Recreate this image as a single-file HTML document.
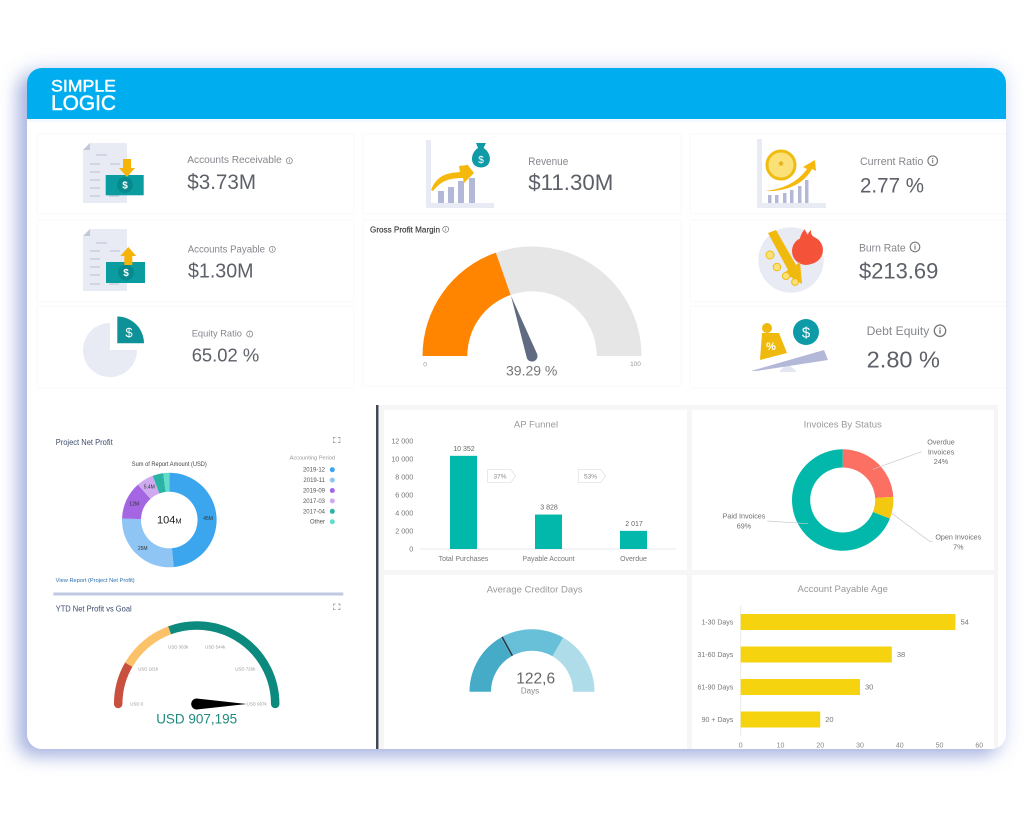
<!DOCTYPE html>
<html lang="en">
<head>
<meta charset="utf-8">
<title>Simple Logic Dashboard</title>
<style>
html,body{margin:0;padding:0;width:1024px;height:816px;background:#fff;overflow:hidden;font-family:"Liberation Sans",sans-serif}
#shadow{position:absolute;left:27px;top:68px;width:979px;height:681px;border-radius:15px;background:#fff;box-shadow:-9px 7px 17px rgba(120,138,205,.6),0 0 20px 3px rgba(175,190,240,.28)}
#board{position:absolute;left:0;top:0;filter:blur(.35px)}
text{font-family:"Liberation Sans",sans-serif}
</style>
</head>
<body>
<div id="shadow"></div>
<svg id="board" width="1024" height="816" viewBox="0 0 1024 816" xmlns="http://www.w3.org/2000/svg">
<defs>
<clipPath id="panelClip"><rect x="27" y="68" width="979" height="681" rx="15"/></clipPath>
<g id="infoGlyph"><circle r="3" fill="none" stroke="#777" stroke-width=".7"/><rect x="-.35" y="-.6" width=".7" height="2.2" fill="#777"/><rect x="-.35" y="-1.7" width=".7" height=".7" fill="#777"/></g>
</defs>
<g clip-path="url(#panelClip)" id="panel">
<rect x="27" y="68" width="979" height="681" fill="#fff"/>
<rect x="27" y="68" width="979" height="51" fill="#00aeef"/>
<rect x="27" y="119" width="979" height="3" fill="#f4fbfe"/>
<g fill="#fff" stroke="#fff" stroke-width=".45">
<text x="51" y="91.700" font-size="17" textLength="65" lengthAdjust="spacingAndGlyphs">SIMPLE</text>
<text x="51" y="110" font-size="21" textLength="65" lengthAdjust="spacingAndGlyphs">LOGIC</text>
</g>

<g fill="#fff" stroke="#f8f8f8" stroke-width="1">
<rect x="37" y="134" width="317" height="80" rx="2"/>
<rect x="37" y="220" width="317" height="82" rx="2"/>
<rect x="37" y="306" width="317" height="82" rx="2"/>
<rect x="363" y="134" width="318" height="80" rx="2"/>
<rect x="363" y="220" width="318" height="166" rx="2"/>
<rect x="690" y="134" width="330" height="80" rx="2"/>
<rect x="690" y="220" width="330" height="82" rx="2"/>
<rect x="690" y="306" width="330" height="82" rx="2"/>
</g>

<!-- icon: receivable -->
<g>
<path d="M90 143H127V203H83V150Z" fill="#e8eaf4"/><path d="M90 143V150H83Z" fill="#c4c8dc"/>
<g stroke="#bcc0d2" stroke-width="1"><path d="M96 155h11M90 164h10M110 164h10M90 172h10M90 180h10M90 188h10M90 196h10M109 196h10"/></g>
<rect x="105.7" y="175" width="38" height="20.3" fill="#0a9c9f"/><circle cx="125" cy="185" r="8" fill="#078a8e"/>
<text x="125" y="188.5" font-size="10" font-weight="bold" fill="#fff" text-anchor="middle">$</text>
<path d="M123 159h8v9h4l-8 9-8-9h4Z" fill="#f6b30a"/>
</g>
<!-- icon: payable -->
<g>
<path d="M90 229H127V291H83V236Z" fill="#e8eaf4"/><path d="M90 229V236H83Z" fill="#c4c8dc"/>
<g stroke="#bcc0d2" stroke-width="1"><path d="M96 243h11M90 251h10M110 251h10M90 259h10M90 267h10M90 275h10M90 284h10M109 284h10"/></g>
<rect x="106" y="262" width="39" height="21" fill="#0a9c9f"/><circle cx="126" cy="272.5" r="8" fill="#078a8e"/>
<text x="126" y="276" font-size="10" font-weight="bold" fill="#fff" text-anchor="middle">$</text>
<path d="M128.3 247l8 9h-4v9h-8v-9h-4Z" fill="#f6b30a"/>
</g>
<!-- icon: equity -->
<g>
<path d="M110 323V350H137A27 27 0 1 1 110 323Z" fill="#e8eaf4"/>
<path d="M117.3 316.5A26.8 26.8 0 0 1 144 343.3H117.3Z" fill="#0f9297"/>
<text x="129" y="337" font-size="13" fill="#fff" text-anchor="middle">$</text>
</g>
<!-- icon: revenue -->
<g>
<path d="M426 140h5v63h63v5h-68Z" fill="#e8eaf4"/>
<g fill="#b3b8d8"><rect x="438" y="191" width="6" height="12"/><rect x="448" y="187" width="6" height="16"/><rect x="458" y="181" width="6" height="22"/><rect x="469" y="178" width="6" height="25"/></g>
<path d="M431 190C437 175 447 173 460 172L459 166 467 165 467 164 474 173 464 183 463 178C449 178 441 181 433 191Z" fill="#f5b90e"/>
<path d="M476 143h10l-2.500 5C492 153 493 167 481 167.500 469 167 470 153 478 148Z" fill="#0e9aa7"/>
<text x="481" y="163" font-size="10" fill="#fff" text-anchor="middle">$</text>
</g>
<!-- icon: current ratio -->
<g>
<path d="M757 139h5v64h64v5h-69Z" fill="#e8eaf4"/>
<g fill="#b3b8d8"><rect x="768" y="195" width="3.500" height="8"/><rect x="775" y="195" width="3.500" height="8"/><rect x="783" y="193" width="3.500" height="10"/><rect x="790" y="190" width="3.500" height="13"/><rect x="798" y="186" width="3.500" height="17"/><rect x="805" y="180" width="3.500" height="23"/></g>
<circle cx="781" cy="165" r="14" fill="#fbe178" stroke="#efbc10" stroke-width="3"/>
<text x="781" y="170" font-size="13" font-weight="bold" fill="#e2a90c" text-anchor="middle">*</text>
<path d="M765 191C786 189 799 180 807 169L803 167 815 160 816 171 812 169C804 184 786 192 765 191Z" fill="#f5b90e"/>
</g>
<!-- icon: burn rate -->
<g>
<circle cx="791" cy="260" r="32.700" fill="#e8eaf4"/>
<path d="M800 251a13 13 0 0 0 10 13a14 14 0 0 0 4-27c-3-2-3-4-3-7-2 2-3 3-3 5-2-3-3-4-3-6-3 3-4 6-5 9Z" fill="#f4533a"/>
<circle cx="806" cy="251" r="14" fill="#f4533a"/>
<path d="M768 233l8-3 20 35 4-3 2 22-18-11 4-3Z" fill="#f0b90e"/>
<g fill="#fbe178" stroke="#efbc10"><circle cx="770" cy="255" r="4"/><circle cx="777" cy="267" r="3.800"/><circle cx="786" cy="276" r="3.600"/><circle cx="795" cy="282" r="3.400"/></g>
</g>
<!-- icon: debt equity -->
<g>
<path d="M787 363l10 9h-18Z" fill="#e4e6f2"/>
<path d="M751 371L824 350 828 360 756 371Z" fill="#b3b8d8"/>
<circle cx="767" cy="328" r="5" fill="#f0b90e"/><path d="M762 333H779L787 353 760 360Z" fill="#f0b90e"/>
<text x="771" y="350" font-size="11" font-weight="bold" fill="#fff" text-anchor="middle">%</text>
<circle cx="806" cy="332" r="13" fill="#0e9aa7"/>
<text x="806" y="337.500" font-size="15" fill="#fff" text-anchor="middle">$</text>
</g>

<!-- KPI text -->
<g fill="#85878d">
<text x="187.300" y="163" font-size="10.500" textLength="94.500" lengthAdjust="spacingAndGlyphs">Accounts Receivable</text>
<text x="187.700" y="252.300" font-size="10" textLength="77.300" lengthAdjust="spacingAndGlyphs">Accounts Payable</text>
<text x="191.700" y="336.700" font-size="9.500" textLength="50.300" lengthAdjust="spacingAndGlyphs">Equity Ratio</text>
<text x="528.300" y="165" font-size="11" textLength="40" lengthAdjust="spacingAndGlyphs">Revenue</text>
<text x="860" y="165" font-size="11" textLength="63.300" lengthAdjust="spacingAndGlyphs">Current Ratio</text>
<text x="859" y="251.700" font-size="11" textLength="46.700" lengthAdjust="spacingAndGlyphs">Burn Rate</text>
<text x="866.700" y="335" font-size="12" textLength="62.600" lengthAdjust="spacingAndGlyphs">Debt Equity</text>
</g>
<g fill="#5d6068">
<text x="187.300" y="189" font-size="21" textLength="68.700" lengthAdjust="spacingAndGlyphs">$3.73M</text>
<text x="188" y="277.300" font-size="20" textLength="65.500" lengthAdjust="spacingAndGlyphs">$1.30M</text>
<text x="191.700" y="361.700" font-size="18.500" textLength="67.500" lengthAdjust="spacingAndGlyphs">65.02 %</text>
<text x="528.300" y="190" font-size="22" textLength="85" lengthAdjust="spacingAndGlyphs">$11.30M</text>
<text x="860" y="192.700" font-size="21" textLength="64" lengthAdjust="spacingAndGlyphs">2.77 %</text>
<text x="859" y="278.300" font-size="22" textLength="79.300" lengthAdjust="spacingAndGlyphs">$213.69</text>
<text x="866.700" y="367.300" font-size="23" textLength="73.300" lengthAdjust="spacingAndGlyphs">2.80 %</text>
</g>
<use href="#infoGlyph" x="289.300" y="160.700"/>
<use href="#infoGlyph" x="272.300" y="249.300"/>
<use href="#infoGlyph" x="249.700" y="334"/>
<use href="#infoGlyph" x="445.700" y="229.300"/>
<use href="#infoGlyph" transform="translate(932.700 160.700) scale(1.600)"/>
<use href="#infoGlyph" transform="translate(915 247) scale(1.600)"/>
<use href="#infoGlyph" transform="translate(940 330.700) scale(1.900)"/>

<text x="370" y="232.300" font-size="8.200" fill="#3a3a3a" stroke="#3a3a3a" stroke-width=".15" textLength="70" lengthAdjust="spacingAndGlyphs">Gross Profit Margin</text>
<g id="grossGauge"></g>
<text x="425" y="366.500" font-size="6.500" fill="#999" text-anchor="middle">0</text>
<text x="635.500" y="366" font-size="6.500" fill="#999" text-anchor="middle">100</text>
<text x="531.700" y="375.500" font-size="14" fill="#777" text-anchor="middle">39.29 %</text>

<!-- lower left -->
<text x="55.700" y="445" font-size="8.300" fill="#3b4a6b" textLength="57" lengthAdjust="spacingAndGlyphs">Project Net Profit</text>
<g stroke="#8b9099" stroke-width=".7" fill="none"><path d="M333.500 439.500v-2h2M338 437.500h2v2M333.500 440.500v2h2M338 442.500h2v-2"/></g>
<text x="169.300" y="466" font-size="6" fill="#444" text-anchor="middle" textLength="75" lengthAdjust="spacingAndGlyphs">Sum of Report Amount (USD)</text>
<text x="335" y="459.300" font-size="5.600" fill="#999" text-anchor="end">Accounting Period</text>
<g id="profitDonut"></g>
<g id="profitLegend"></g>
<text x="169.300" y="523.700" font-size="11" fill="#222" text-anchor="middle">104<tspan font-size="7.500">M</tspan></text>
<text x="55.700" y="582" font-size="5.600" fill="#2a6fb0" textLength="79" lengthAdjust="spacingAndGlyphs">View Report (Project Net Profit)</text>
<rect x="53.300" y="592.500" width="290" height="3" fill="#c0cae0"/>
<text x="55.700" y="611.300" font-size="8.300" fill="#3b4a6b" textLength="76" lengthAdjust="spacingAndGlyphs">YTD Net Profit vs Goal</text>
<g stroke="#8b9099" stroke-width=".7" fill="none"><path d="M333.500 606v-2h2M338 604h2v2M333.500 607.500v2h2M338 609.500h2v-2"/></g>
<g id="ytdGauge"></g>
<text x="196.700" y="723.300" font-size="14" fill="#1f8a7d" text-anchor="middle" textLength="81" lengthAdjust="spacingAndGlyphs">USD 907,195</text>

<!-- lower right -->
<rect x="379" y="405" width="627" height="344" fill="#f6f6f7"/>
<rect x="998" y="405" width="8" height="344" fill="#fff"/>
<rect x="376" y="405" width="2.500" height="344" fill="#3f4a55"/>
<rect x="384" y="410" width="303" height="160" fill="#fff"/>
<rect x="692" y="410" width="302" height="160" fill="#fff"/>
<rect x="384" y="575" width="303" height="174" fill="#fff"/>
<rect x="692" y="575" width="302" height="174" fill="#fff"/>

<text x="536" y="427.700" font-size="9.500" fill="#999" text-anchor="middle">AP Funnel</text>
<g id="funnelChart"></g>
<g><path d="M487.700 469.300H510.500L515.700 476 510.500 482.700H487.700Z" fill="#fff" stroke="#ddd" stroke-width=".7"/><text x="500" y="478.500" font-size="6.500" fill="#888" text-anchor="middle">37%</text></g>
<g><path d="M578.300 469.300H600.500L605.700 476 600.500 482.700H578.300Z" fill="#fff" stroke="#ddd" stroke-width=".7"/><text x="590.500" y="478.500" font-size="6.500" fill="#888" text-anchor="middle">53%</text></g>

<text x="842.700" y="427.300" font-size="9.500" fill="#999" text-anchor="middle">Invoices By Status</text>
<g id="invoiceDonut"></g>
<g stroke="#c9c9c9" stroke-width=".7" fill="none">
<path d="M921.700 451.700L872.700 469.300"/>
<path d="M933 541.700H930L891.700 513.300"/>
<path d="M767.300 521L808.300 523.700"/>
</g>
<g font-size="7.200" fill="#6f6f6f" text-anchor="middle">
<text x="941" y="444.300">Overdue</text>
<text x="941" y="454.300">Invoices</text>
<text x="941" y="464">24%</text>
<text x="958.300" y="539.700">Open Invoices</text>
<text x="958.300" y="549.300">7%</text>
<text x="744" y="518.700">Paid Invoices</text>
<text x="744" y="528.300">69%</text>
</g>

<text x="534.700" y="592.700" font-size="9.500" fill="#999" text-anchor="middle">Average Creditor Days</text>
<g id="creditorGauge"></g>
<text x="535.700" y="683.300" font-size="15.500" fill="#666" text-anchor="middle">122,6</text>
<text x="530" y="693.300" font-size="8" fill="#888" text-anchor="middle">Days</text>

<text x="842.700" y="592" font-size="9.500" fill="#999" text-anchor="middle">Account Payable Age</text>
<g id="ageChart"></g>
</g>
</svg>
<script>
// Gross profit gauge
const grossValue = 39.29;
const grossMax = 100;
// Project net profit donut
const profitPeriods = ['2019-12', '2019-11', '2019-09', '2017-03', '2017-04', 'Other'];
const profitValues = [45, 25, 12, 5.4, 3.4, 1.9];
const profitLabels = ['45M', '25M', '12M', '5.4M', '', ''];
// YTD gauge
const ytdValue = 907195;
const ytdMax = 907195;
const ytdBandEnds = [151000, 352000, 907195];
const ytdTicks = [0, 181000, 363000, 544000, 726000, 907000];
const ytdTickLabels = ['USD 0', 'USD 181k', 'USD 363k', 'USD 544k', 'USD 726k', 'USD 907k'];
// AP funnel
const funnelCategories = ['Total Purchases', 'Payable Account', 'Overdue'];
const funnelValues = [10352, 3828, 2017];
const funnelValueLabels = ['10 352', '3 828', '2 017'];
const funnelTicks = [0, 2000, 4000, 6000, 8000, 10000, 12000];
const funnelTickLabels = ['0', '2 000', '4 000', '6 000', '8 000', '10 000', '12 000'];
// Invoices by status
const invoiceStatuses = ['Overdue Invoices', 'Open Invoices', 'Paid Invoices'];
const invoiceShares = [24, 7, 69];
// Average creditor days
const creditorValue = 122.6;
const creditorMax = 360;
const creditorBandEnds = [120, 240, 360];
// Account payable age
const ageCategories = ['1-30 Days', '31-60 Days', '61-90 Days', '90 + Days'];
const ageValues = [54, 38, 30, 20];
const ageTicks = [0, 10, 20, 30, 40, 50, 60];

const NS = 'http://www.w3.org/2000/svg';
const profitColors = ['#3ba6ee', '#8ec5f4', '#a566e4', '#cfaaf0', '#2bb3a6', '#62dccb'];
const invoiceColors = ['#fc6f63', '#f2c811', '#01b8aa'];
const creditorColors = ['#46abc6', '#67bfd8', '#aedce9'];
const ytdColors = ['#c9503f', '#fbc26a', '#0b8a7d'];

function mk(parent, tag, attrs, text) {
  const el = document.createElementNS(NS, tag);
  for (const k in attrs) el.setAttribute(k, attrs[k]);
  if (text !== undefined) el.textContent = text;
  parent.appendChild(el);
  return el;
}
function polar(cx, cy, r, deg) {
  const a = (deg - 90) * Math.PI / 180;
  return [cx + r * Math.cos(a), cy + r * Math.sin(a)];
}
function sector(cx, cy, ri, ro, a0, a1) {
  const p0 = polar(cx, cy, ro, a0), p1 = polar(cx, cy, ro, a1), p2 = polar(cx, cy, ri, a1), p3 = polar(cx, cy, ri, a0);
  const large = (a1 - a0) > 180 ? 1 : 0;
  return 'M' + p0 + 'A' + ro + ' ' + ro + ' 0 ' + large + ' 1 ' + p1 + 'L' + p2 + 'A' + ri + ' ' + ri + ' 0 ' + large + ' 0 ' + p3 + 'Z';
}
function arcPath(cx, cy, r, a0, a1) {
  const p0 = polar(cx, cy, r, a0), p1 = polar(cx, cy, r, a1);
  return 'M' + p0 + 'A' + r + ' ' + r + ' 0 ' + ((a1 - a0) > 180 ? 1 : 0) + ' 1 ' + p1;
}
function gaugeDeg(v, max) { return -90 + 180 * v / max; }
function needle(parent, cx, cy, len, baseR, deg, fill) {
  const tip = polar(cx, cy, len, deg), l = polar(cx, cy, baseR, deg - 90), r = polar(cx, cy, baseR, deg + 90);
  const el = mk(parent, 'path', { d: 'M' + l + 'L' + tip + 'L' + r + 'A' + baseR + ' ' + baseR + ' 0 1 1 ' + l + 'Z', fill: fill });
  return el;
}
function sum(a) { return a.reduce(function (x, y) { return x + y; }, 0); }

/* Gross profit gauge */
(function () {
  const g = document.getElementById('grossGauge');
  const cx = 532, cy = 356, ri = 64.7, ro = 109.5;
  const split = gaugeDeg(grossValue, grossMax);
  const track = mk(g, 'path', { d: sector(cx, cy, ri, ro, split, 90), fill: '#e6e6e6' });
  
  
  const fill = mk(g, 'path', { d: sector(cx, cy, ri, ro, -90, split), fill: '#ff8500' });
  
  
  const pin = needle(g, cx, cy, 63.7, 5.5, split, '#5f6b80');
  
  
})();

/* Project net profit donut */
(function () {
  const g = document.getElementById('profitDonut');
  const cx = 169.3, cy = 520, ri = 28.3, ro = 47.3, total = sum(profitValues);
  let a = 0;
  profitValues.forEach(function (v, i) {
    const a1 = a + 360 * v / total;
    const s = mk(g, 'path', { d: sector(cx, cy, ri, ro, a, a1), fill: profitColors[i] });
    
    
    if (profitLabels[i]) {
      const p = polar(cx, cy, (ri + ro) / 2 + 1, (a + a1) / 2);
      const t = mk(g, 'text', { x: p[0], y: p[1] + 1.8, 'font-size': 5, fill: '#333', 'text-anchor': 'middle' }, profitLabels[i]);
      
      
    }
    a = a1;
  });
  const lg = document.getElementById('profitLegend');
  profitPeriods.forEach(function (p, i) {
    const y = 469.7 + i * 10.4;
    const t = mk(lg, 'text', { x: 325, y: y + 2, 'font-size': 6, fill: '#555', 'text-anchor': 'end' }, p);
    
    
    const d = mk(lg, 'circle', { cx: 332.3, cy: y, r: 2.5, fill: profitColors[i] });
    
    
  });
})();

/* YTD gauge */
(function () {
  const g = document.getElementById('ytdGauge');
  const cx = 196.7, cy = 704, r = 78.5;
  [0, 2, 1].forEach(function (i) {
    const from = i === 0 ? 0 : ytdBandEnds[i - 1];
    const s = mk(g, 'path', {
      d: arcPath(cx, cy, r, gaugeDeg(from, ytdMax), gaugeDeg(ytdBandEnds[i], ytdMax)),
      fill: 'none', stroke: ytdColors[i], 'stroke-width': 8.5, 'stroke-linecap': i === 1 ? 'butt' : 'round'
    });
    
    
  });
  ytdTicks.forEach(function (v, i) {
    const p = polar(cx, cy, 60, gaugeDeg(v, ytdMax));
    const t = mk(g, 'text', { x: p[0], y: p[1] + 1.6, 'font-size': 4.4, fill: '#999', 'text-anchor': 'middle' }, ytdTickLabels[i]);
    
    
  });
  const pin = needle(g, cx, cy, 50, 5.5, gaugeDeg(ytdValue, ytdMax), '#000');
  
  
})();

/* AP funnel */
(function () {
  const g = document.getElementById('funnelChart');
  const y = function (v) { return 549 - v / 12000 * 108; };
  const left = 421, step = 85, barW = 27;
  const x = function (i) { return left + step * (i + 0.5); };
  funnelTicks.forEach(function (v, i) {
    const t = mk(g, 'text', { x: 413.3, y: y(v) + 2.6, 'font-size': 7.2, fill: '#777', 'text-anchor': 'end' }, funnelTickLabels[i]);
    
    
  });
  const base = mk(g, 'line', { x1: 420, x2: 676, y1: y(0), y2: y(0), stroke: '#dde3e8', 'stroke-width': 0.8 });
  
  
  funnelValues.forEach(function (v, i) {
    const b = mk(g, 'rect', { x: x(i) - barW / 2, y: y(v), width: barW, height: y(0) - y(v), fill: '#01b8aa' });
    
    
    const t = mk(g, 'text', { x: x(i) + 0.5, y: y(v) - 5, 'font-size': 7, fill: '#666', 'text-anchor': 'middle' }, funnelValueLabels[i]);
    
    
    const c = mk(g, 'text', { x: x(i), y: 561, 'font-size': 7, fill: '#777', 'text-anchor': 'middle' }, funnelCategories[i]);
    
    
  });
})();

/* Invoices donut */
(function () {
  const g = document.getElementById('invoiceDonut');
  const total = sum(invoiceShares);
  let a = 0;
  invoiceShares.forEach(function (v, i) {
    const a1 = a + 360 * v / total;
    const s = mk(g, 'path', { d: sector(842.7, 500, 32.5, 50.7, a, a1), fill: invoiceColors[i] });
    
    
    mk(s, 'title', {}, invoiceStatuses[i]);
    a = a1;
  });
})();

/* Creditor gauge */
(function () {
  const g = document.getElementById('creditorGauge');
  const cx = 532, cy = 691.7, ri = 41, ro = 62.5;
  creditorBandEnds.forEach(function (end, i) {
    const from = i === 0 ? 0 : creditorBandEnds[i - 1];
    const s = mk(g, 'path', { d: sector(cx, cy, ri, ro, gaugeDeg(from, creditorMax), gaugeDeg(end, creditorMax)), fill: creditorColors[i] });
    
    
  });
  const deg = gaugeDeg(creditorValue, creditorMax);
  const p0 = polar(cx, cy, ri, deg), p1 = polar(cx, cy, ro, deg);
  const m = mk(g, 'line', { x1: p0[0], y1: p0[1], x2: p1[0], y2: p1[1], stroke: '#2f3b45', 'stroke-width': 1.6 });
  
  
})();

/* Payable age */
(function () {
  const g = document.getElementById('ageChart');
  const x = function (v) { return 740.7 + v / 60 * 238.6; };
  const y = function (i) { return 622 + i * 32.5; };
  const ax = mk(g, 'line', { x1: x(0), x2: x(0), y1: 605, y2: 736, stroke: '#e6e6e6', 'stroke-width': 0.8 });
  
  
  ageValues.forEach(function (v, i) {
    const b = mk(g, 'rect', { x: x(0), y: y(i) - 8, width: x(v) - x(0), height: 16, fill: '#f6d30f' });
    
    
    const t = mk(g, 'text', { x: x(v) + 5, y: y(i) + 2.6, 'font-size': 7.5, fill: '#777' }, String(v));
    
    
    const c = mk(g, 'text', { x: 733.3, y: y(i) + 2.4, 'font-size': 7, fill: '#777', 'text-anchor': 'end' }, ageCategories[i]);
    
    
  });
  ageTicks.forEach(function (v) {
    const t = mk(g, 'text', { x: x(v), y: 747.7, 'font-size': 7, fill: '#888', 'text-anchor': 'middle' }, String(v));
    
    
  });
})();
</script>
</body>
</html>
